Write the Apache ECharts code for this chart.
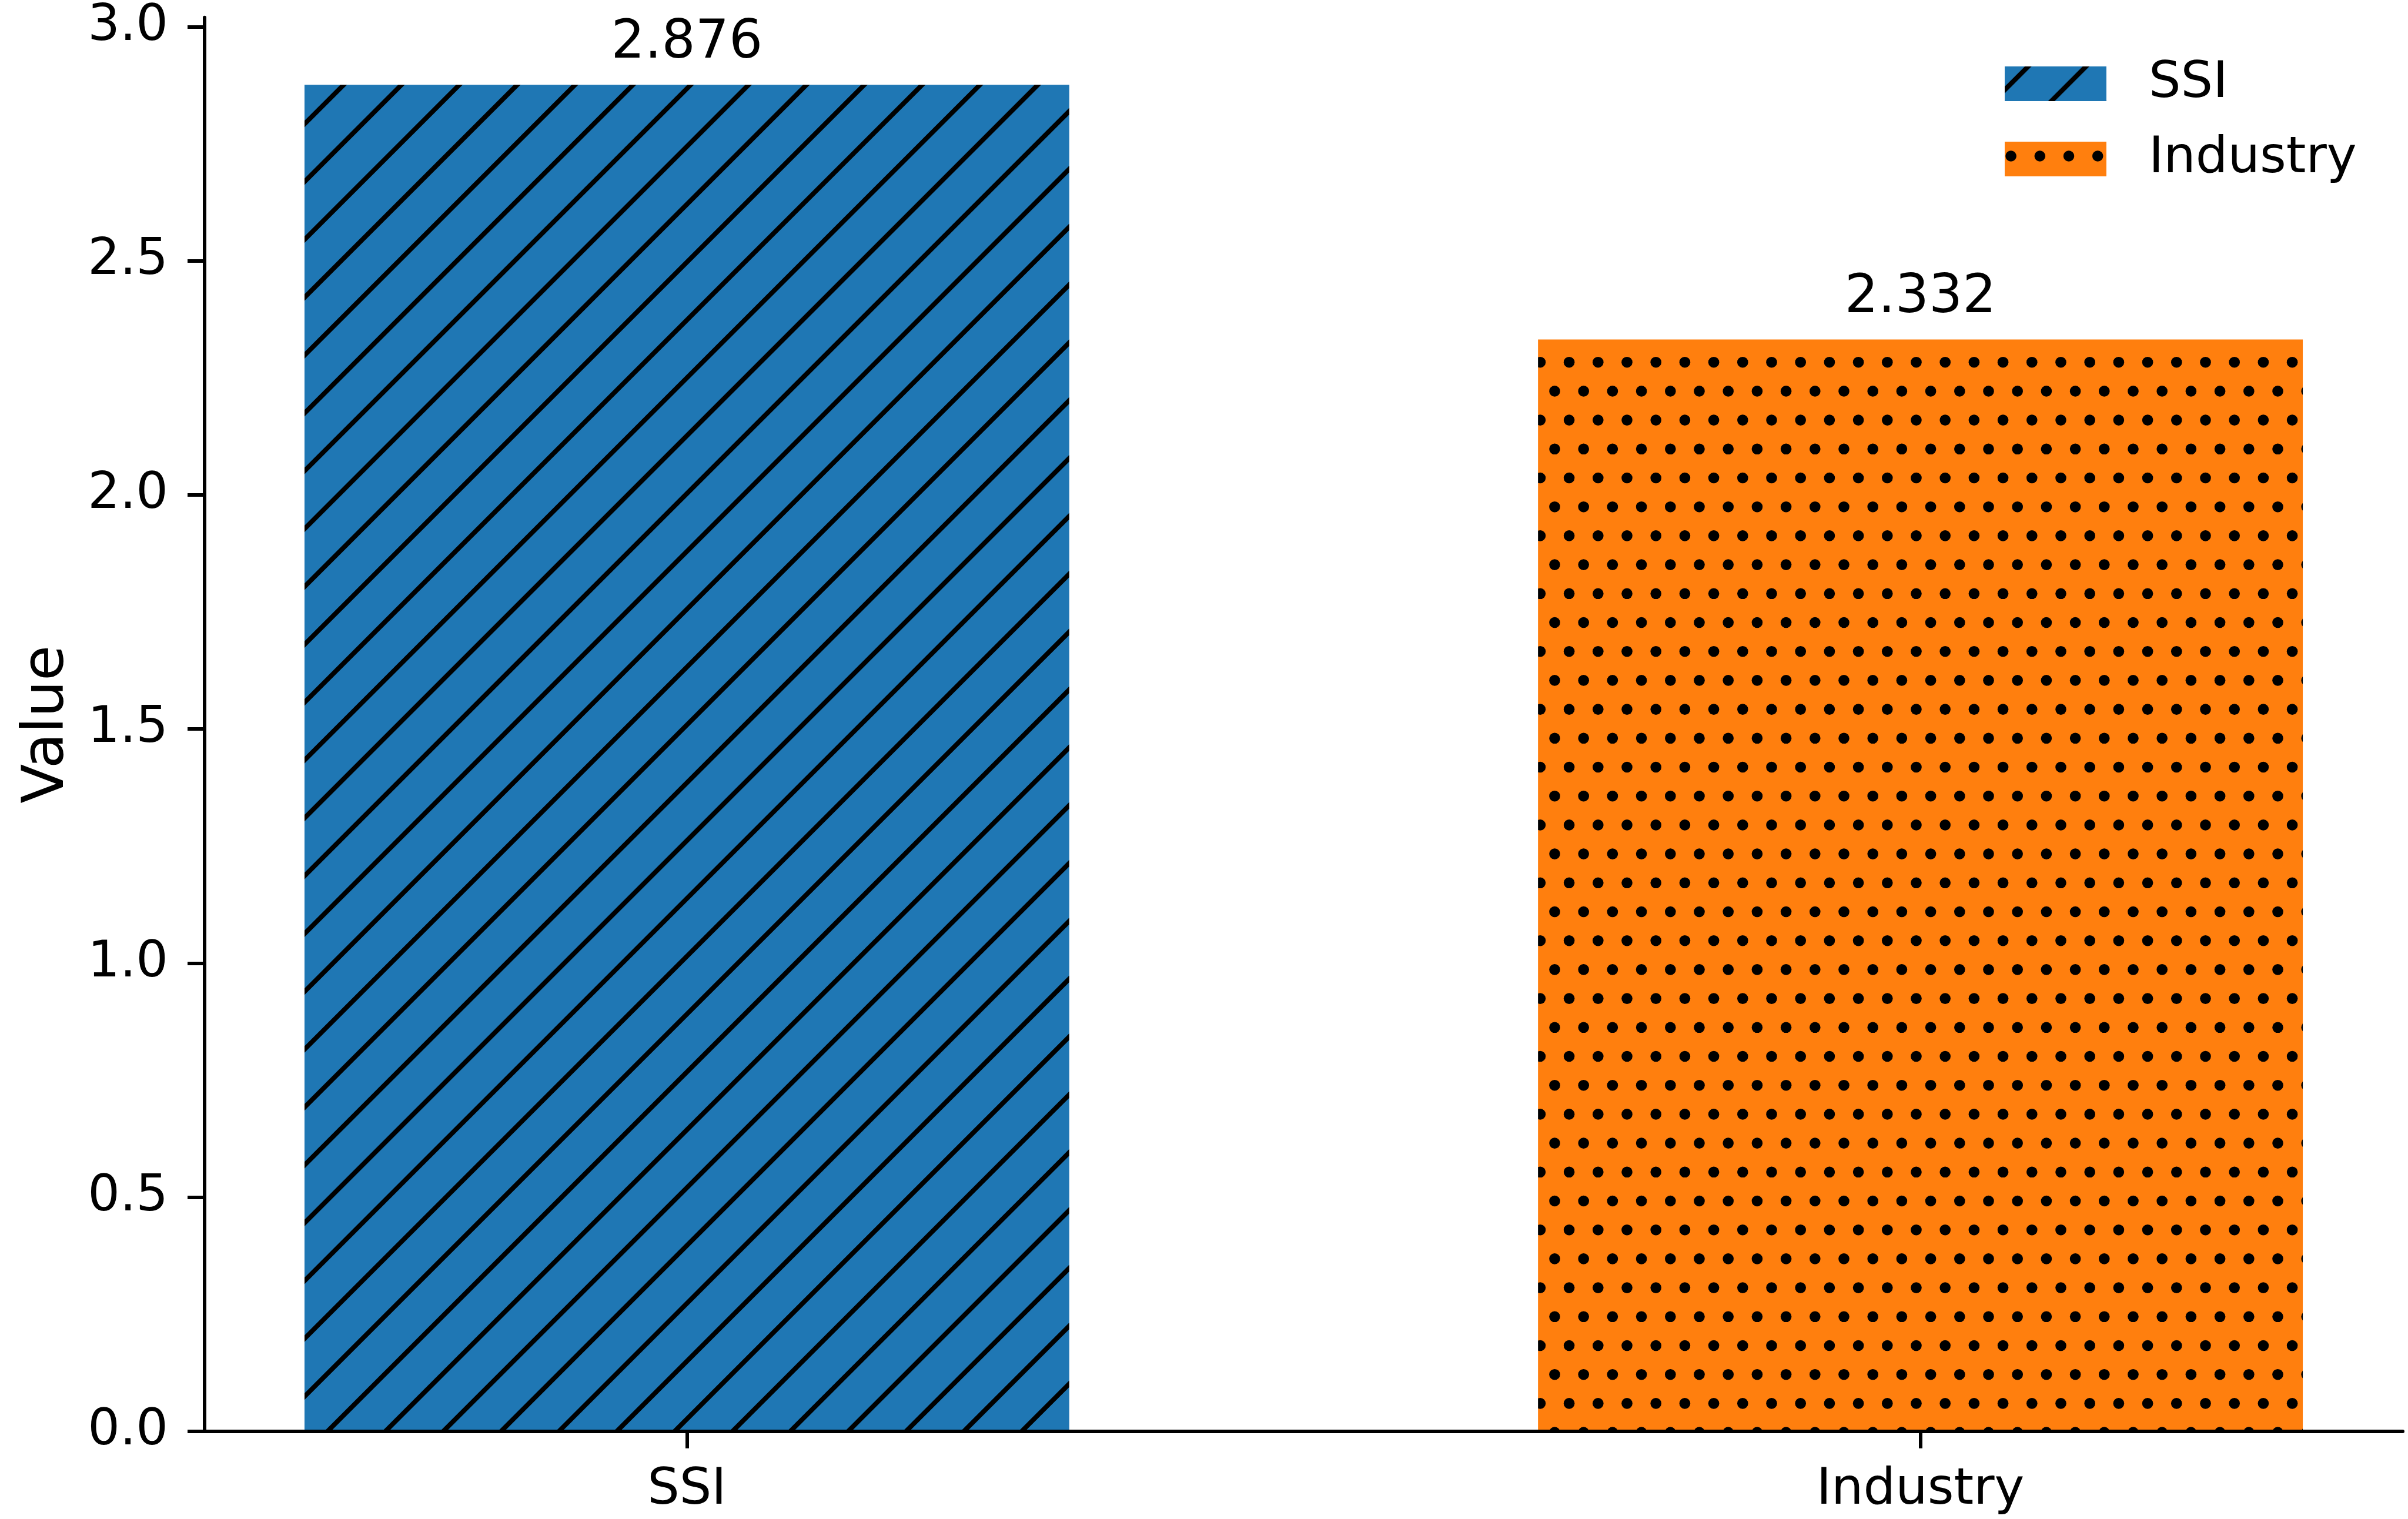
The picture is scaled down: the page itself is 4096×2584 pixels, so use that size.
<!DOCTYPE html>
<html>
<head>
<meta charset="utf-8">
<script src="https://cdn.jsdelivr.net/npm/echarts@6/dist/echarts.min.js"></script>
<style>
  html, body { margin: 0; padding: 0; background: #fff; }
  #chart-container { width: 4096px; height: 2584px; }
</style>
</head>
<body>
<div id="chart-container"></div>
<script>
var categories = ['SSI', 'Industry'];
var values = [2.876, 2.332];
var yTicks = [0, 0.5, 1.0, 1.5, 2.0, 2.5, 3.0];
var xTicks = [0, 1];
var colors = ['#1f77b4', '#ff7f0e'];
var hatches = ['/', '.'];

var font = 'DejaVu Sans';

// hatch tile, 5 periods of 98.4px so the pattern repeats cleanly
function makeTile(kind, color, px, py) {
  var size = 492, step = 98.4, half = step / 2;
  var c = document.createElement('canvas');
  c.width = size;
  c.height = size;
  var ctx = c.getContext('2d');
  ctx.fillStyle = color;
  ctx.fillRect(0, 0, size, size);
  ctx.fillStyle = '#000';
  ctx.strokeStyle = '#000';
  if (kind === '/') {
    ctx.lineWidth = 8;
    ctx.beginPath();
    for (var k = -1; k <= 11; k++) {
      var s = px + step * k;
      ctx.moveTo(s + 30, -30);
      ctx.lineTo(s - size - 30, size + 30);
    }
    ctx.stroke();
  } else {
    for (var r = -1; r <= 10; r++) {
      var y = py + half * r;
      var off = (((r % 2) + 2) % 2) === 0 ? px : px + half / 2;
      for (var j = -1; j <= 11; j++) {
        ctx.beginPath();
        ctx.arc(off + half * j, y, 9.3, 0, Math.PI * 2);
        ctx.fill();
      }
    }
  }
  return { image: c, repeat: 'repeat' };
}

var barFill = [makeTile(hatches[0], colors[0], 40, 0), makeTile(hatches[1], colors[1], 12.3, 25.8)];
var legendFill = [makeTile(hatches[0], colors[0], 40, 0), makeTile(hatches[1], colors[1], 35.2, 73.7)];

var dom = document.getElementById('chart-container');
var myChart = echarts.init(dom);
var option;

var ymax = Math.max.apply(null, values) * 1.05;

option = {
  animation: false,
  backgroundColor: '#fff',
  grid: { left: 348, right: 9, top: 29.7, bottom: 149.3 },
  legend: {
    orient: 'vertical',
    left: 3410,
    top: 83.4,
    padding: 0,
    itemGap: 10,
    itemWidth: 173,
    itemHeight: 59,
    selectedMode: false,
    textStyle: { fontSize: 86, lineHeight: 86, color: '#000', fontFamily: font, padding: [32, 0, 0, 67] },
    data: categories.map(function (c, i) {
      return { name: c, icon: 'rect', itemStyle: { color: legendFill[i] } };
    })
  },
  xAxis: {
    type: 'value',
    min: -0.391,
    max: 1.391,
    z: 10,
    splitLine: { show: false },
    axisLine: { show: true, onZero: false, lineStyle: { color: '#000', width: 6 } },
    axisTick: { show: true, customValues: xTicks, length: 29, lineStyle: { color: '#000', width: 6 } },
    axisLabel: {
      customValues: xTicks,
      margin: 58,
      fontSize: 86,
      color: '#000',
      fontFamily: font,
      formatter: function (v) { return categories[v]; }
    }
  },
  yAxis: {
    type: 'value',
    min: 0,
    max: ymax,
    z: 10,
    name: 'Value',
    nameLocation: 'middle',
    nameGap: 217,
    nameTextStyle: { fontSize: 98, color: '#000', fontFamily: font },
    splitLine: { show: false },
    axisLine: { show: true, onZero: false, lineStyle: { color: '#000', width: 6 } },
    axisTick: { show: true, customValues: yTicks, length: 29, lineStyle: { color: '#000', width: 6 } },
    axisLabel: {
      customValues: yTicks,
      margin: 62,
      fontSize: 86,
      color: '#000',
      fontFamily: font,
      padding: [10, 0, 0, 0],
      formatter: function (v) { return v.toFixed(1); }
    }
  },
  series: categories.map(function (c, i) {
    return {
      name: c,
      type: 'bar',
      barWidth: '62%',
      barGap: '-100%',
      data: [[i, values[i]]],
      itemStyle: { color: barFill[i] },
      label: {
        show: true,
        position: 'top',
        distance: 25,
        color: '#000',
        fontSize: 90,
        fontFamily: font,
        formatter: function (p) { return p.value[1].toFixed(3); }
      }
    };
  })
};

if (option && typeof option === 'object') {
  myChart.setOption(option);
}

window.addEventListener('resize', myChart.resize);
</script>
</body>
</html>
